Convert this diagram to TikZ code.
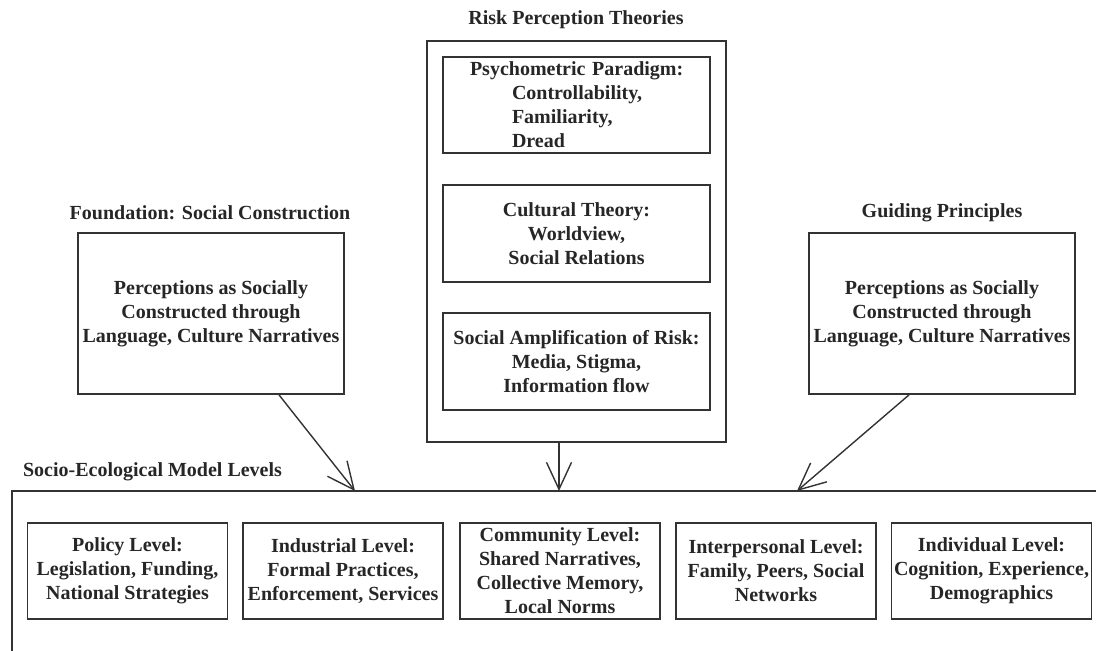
\documentclass[tikz,border=0pt]{standalone}
\usepackage{fontspec}
\setmainfont{Liberation Serif}
\usetikzlibrary{arrows.meta}
\tikzset{>={Straight Barb[length=13.5pt,width=12.5pt]}}

\begin{document}
\begin{tikzpicture}[
    x = 0.5pt, y = -0.5pt,
    every node/.style = {font = \fontsize{10}{12}\selectfont\bfseries, text = black!85},
    frame/.style = {draw = black!80, line width = 0.9pt, inner sep = 0pt, align = center},
    lvl/.style = {frame, minimum width = 100pt, minimum height = 48pt},
    arr/.style = {->, draw = black!80, line width = 0.7pt},
]

\clip (0,0) rectangle (1096,651);

% risk perception theories
\node (rpttitle) at (576,20) {Risk Perception Theories};
\node[frame, minimum width = 149.5pt, minimum height = 200.5pt] (rpt) at (576.5,241.5) {};
\node[frame, text width = 133.5pt, minimum height = 48pt, align = left] (psy) at (576.5,105)
    {\hspace*{13.5pt}Psychometric Paradigm:\\ \hspace*{34.5pt}Controllability,\\ \hspace*{34.5pt}Familiarity,\\ \hspace*{34.5pt}Dread};
\node[frame, minimum width = 133.5pt, minimum height = 48.5pt] (cult) at (576.5,233.5)
    {Cultural Theory:\\ Worldview,\\ Social Relations};
\node[frame, minimum width = 133.5pt, minimum height = 48.5pt] (amp) at (576.5,361.5)
    {Social Amplification of Risk:\\ Media, Stigma,\\ Information flow};

% foundation and principles
\node (foundtitle) at (210,213) {Foundation: Social Construction};
\node[frame, minimum width = 133pt, minimum height = 80.5pt] (found) at (211,313.5)
    {Perceptions as Socially\\ Constructed through\\ Language, Culture Narratives};
\node (guidetitle) at (942,213) {Guiding Principles};
\node[frame, minimum width = 133pt, minimum height = 80.5pt] (guide) at (942,313.5)
    {Perceptions as Socially\\ Constructed through\\ Language, Culture Narratives};

% socio-ecological levels
\node[anchor = west] (semtitle) at (16,472) {Socio-Ecological Model Levels};
\draw[black!80, line width = 0.9pt] (12,491) rectangle (1130,690);

\node[lvl] (policy) at (127.5,571) {Policy Level:\\ Legislation, Funding,\\ National Strategies};
\node[lvl] (industry) at (343,571) {Industrial Level:\\ Formal Practices,\\ Enforcement, Services};
\node[lvl] (community) at (560,571) {Community Level:\\ Shared Narratives,\\ Collective Memory,\\ Local Norms};
\node[lvl] (interpers) at (776,571) {Interpersonal Level:\\ Family, Peers, Social\\ Networks};
\node[lvl] (individ) at (991.5,571) {Individual Level:\\ Cognition, Experience,\\ Demographics};

% arrows into the levels
\coordinate (semleft) at (355,491);
\coordinate (semmid) at (559,491);
\coordinate (semright) at (797,491);
\draw[arr] ([xshift = 34pt]found.south) -- (semleft);
\draw[arr] ([xshift = -8.75pt]rpt.south) -- (semmid);
\draw[arr] ([xshift = -16.5pt]guide.south) -- (semright);

\end{tikzpicture}
\end{document}
